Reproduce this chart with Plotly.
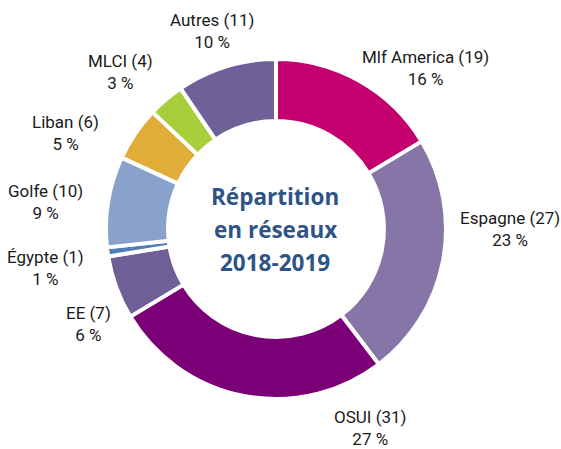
import plotly.graph_objects as go

categories = ["Mlf America", "Espagne", "OSUI", "EE", "Égypte", "Golfe", "Liban", "MLCI", "Autres"]
counts = [19, 27, 31, 7, 1, 10, 6, 4, 11]
percents = [16, 23, 27, 6, 1, 9, 5, 3, 10]
colors = ["#C3006E", "#8676A8", "#7B0077", "#6E5F97", "#4F7DB5", "#88A2CB", "#E1AC37", "#A9CE3B", "#6E6098"]
title_lines = ["Répartition", "en réseaux", "2018-2019"]

# label anchor positions in pixels (layout only)
label_px = [(425, 68), (510, 229), (370, 428), (88, 324), (45, 268), (45, 202), (65, 133), (120, 72), (212, 31)]

W, H = 561, 449
L, R, T, B = 106, 115, 59, 50
pw, ph = W - L - R, H - T - B

fig = go.Figure(go.Pie(
    labels=categories,
    values=counts,
    textinfo="none",
    hole=0.635,
    sort=False,
    direction="clockwise",
    rotation=0,
    marker=dict(colors=colors, line=dict(color="white", width=4)),
    showlegend=False,
    hoverinfo="label+value+percent",
))

for c, n, p, (px, py) in zip(categories, counts, percents, label_px):
    fig.add_annotation(
        x=(px - L) / pw, y=1 - (py - T) / ph, xref="paper", yref="paper",
        text=f"{c} ({n})<br>{p} %", showarrow=False, align="center",
        xanchor="center", yanchor="middle",
        font=dict(family="Roboto, sans-serif", size=17, color="#1a1a1a"),
    )

for i, line in enumerate(title_lines):
    py = 196 + 33 * i
    fig.add_annotation(
        x=(275 - L) / pw, y=1 - (py - T) / ph, xref="paper", yref="paper",
        text=line, showarrow=False, xanchor="center", yanchor="middle",
        font=dict(family="Open Sans, sans-serif", size=22.5, color="#2E5487", weight="bold"),
    )

fig.update_layout(
    width=W, height=H,
    margin=dict(l=L, r=R, t=T, b=B),
    paper_bgcolor="white",
    plot_bgcolor="white",
)

fig.write_html(
    "out.html",
    config={"displayModeBar": False},
    post_script="document.body.style.margin='0';document.body.style.overflow='hidden';",
)
